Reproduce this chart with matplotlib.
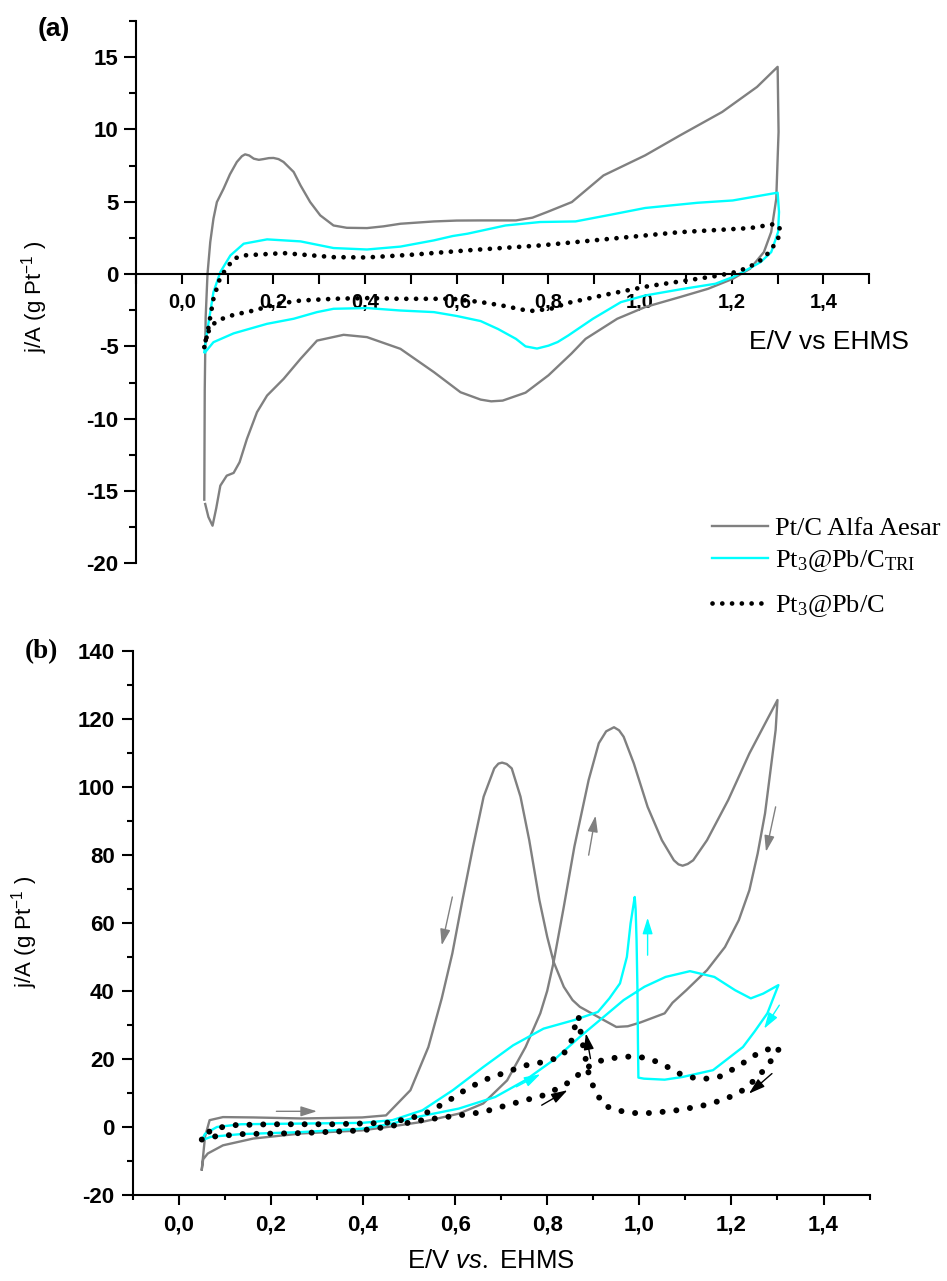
import matplotlib
matplotlib.use("Agg")
import matplotlib.pyplot as plt
from matplotlib.ticker import FixedLocator, FuncFormatter

plt.rcParams['font.family'] = ['Liberation Sans', 'DejaVu Sans']
plt.rcParams['mathtext.fontset'] = 'custom'
plt.rcParams['mathtext.rm'] = 'Liberation Serif'
plt.rcParams['mathtext.sf'] = 'Liberation Sans'
plt.rcParams['mathtext.it'] = 'Liberation Sans:italic'
plt.rcParams['mathtext.bf'] = 'Liberation Sans:bold'
plt.rcParams['mathtext.default'] = 'regular'

# ---------------- data: panel (a) ----------------
a_ptc_E = [0.049, 0.050, 0.052, 0.056, 0.062, 0.069, 0.0765, 0.091, 0.105, 0.120, 0.131, 0.138,
           0.147, 0.157, 0.168, 0.178, 0.190, 0.200, 0.211, 0.222, 0.244, 0.259, 0.280, 0.302,
           0.331, 0.360, 0.404, 0.440, 0.477, 0.550, 0.600, 0.652, 0.729, 0.765, 0.797, 0.851,
           0.920, 1.011, 1.087, 1.179, 1.255, 1.300,
           1.302, 1.297, 1.286, 1.270, 1.240, 1.202, 1.148, 1.087, 1.011, 0.950, 0.881, 0.850,
           0.800, 0.750, 0.700, 0.675, 0.652, 0.608, 0.550, 0.477, 0.404, 0.353, 0.295, 0.259,
           0.222, 0.186, 0.164, 0.142, 0.126, 0.113, 0.098, 0.084, 0.075, 0.067, 0.058, 0.051]
a_ptc_j = [-15.6, -8.0, -3.0, 0.0, 2.21, 3.83, 4.98, 5.90, 6.90, 7.75, 8.15, 8.28,
           8.20, 7.98, 7.90, 7.95, 8.02, 8.03, 7.95, 7.75, 7.06, 6.13, 4.98, 4.06,
           3.36, 3.20, 3.18, 3.30, 3.48, 3.64, 3.70, 3.71, 3.71, 3.90, 4.29, 4.98,
           6.82, 8.21, 9.59, 11.21, 12.94, 14.33,
           9.83, 5.21, 2.91, 1.52, 0.37, -0.33, -1.02, -1.59, -2.28, -3.09, -4.48, -5.50,
           -7.00, -8.20, -8.75, -8.80, -8.68, -8.17, -6.78, -5.17, -4.36, -4.20, -4.60, -5.86,
           -7.25, -8.40, -9.55, -11.40, -13.01, -13.75, -13.94, -14.63, -16.20, -17.40, -16.8, -15.90]

a_tri_E = [0.049, 0.055, 0.069, 0.084, 0.106, 0.135, 0.186, 0.259, 0.331, 0.404, 0.477, 0.550,
           0.591, 0.623, 0.706, 0.782, 0.859, 0.935, 1.011, 1.125, 1.202, 1.300,
           1.303, 1.301, 1.286, 1.263, 1.224, 1.202, 1.164, 1.087, 1.011, 0.958, 0.897, 0.843,
           0.820, 0.800, 0.775, 0.750, 0.729, 0.690, 0.652, 0.600, 0.550, 0.477, 0.404, 0.331,
           0.295, 0.244, 0.186, 0.113, 0.069, 0.051]
a_tri_j = [-5.40, -4.01, -1.25, 0.14, 1.29, 2.10, 2.40, 2.26, 1.80, 1.70, 1.90, 2.33,
           2.63, 2.79, 3.36, 3.60, 3.64, 4.10, 4.57, 4.93, 5.09, 5.63,
           4.29, 2.91, 1.52, 0.83, 0.14, -0.21, -0.67, -1.06, -1.48, -1.94, -3.09, -4.25,
           -4.70, -4.95, -5.15, -5.00, -4.48, -3.80, -3.25, -2.90, -2.63, -2.52, -2.35, -2.40,
           -2.63, -3.09, -3.44, -4.10, -4.71, -5.40]

a_pb_E = [0.049, 0.055, 0.069, 0.084, 0.113, 0.135, 0.222, 0.331, 0.404, 0.503, 0.632, 0.782,
          0.935, 1.087, 1.240, 1.297,
          1.305, 1.301, 1.287, 1.270, 1.247, 1.224, 1.202, 1.164, 1.087, 1.019, 0.935, 0.843,
          0.805, 0.759, 0.698, 0.653, 0.591, 0.477, 0.404, 0.331, 0.259, 0.208, 0.157, 0.113,
          0.091, 0.069, 0.055, 0.049]
a_pb_j = [-5.05, -4.25, -1.71, -0.21, 1.06, 1.29, 1.45, 1.17, 1.15, 1.34, 1.66, 1.98,
          2.44, 2.90, 3.18, 3.48,
          3.13, 2.44, 1.75, 1.10, 0.64, 0.32, 0.09, -0.14, -0.51, -0.83, -1.36, -1.99,
          -2.40, -2.56, -2.17, -1.94, -1.71, -1.71, -1.66, -1.71, -1.83, -2.06, -2.52, -2.82,
          -3.05, -3.44, -4.13, -5.05]

# ---------------- data: panel (b) ----------------
b_ptc_E = [0.050, 0.053, 0.063, 0.096, 0.162, 0.267, 0.398, 0.464, 0.529, 0.608, 0.661, 0.713,
           0.753, 0.785, 0.800, 0.814, 0.836, 0.859, 0.890, 0.912, 0.928, 0.945, 0.956, 0.966,
           0.988, 1.018, 1.049, 1.075, 1.085, 1.094, 1.105, 1.117, 1.147, 1.193, 1.239, 1.277,
           1.300,
           1.296, 1.284, 1.273, 1.257, 1.239, 1.216, 1.186, 1.147, 1.102, 1.072, 1.055, 1.002,
           0.975, 0.950, 0.923, 0.871, 0.855, 0.836, 0.814, 0.800, 0.783, 0.761, 0.742, 0.723,
           0.712, 0.702, 0.694, 0.685, 0.662, 0.639, 0.616, 0.594, 0.571, 0.542, 0.503, 0.450,
           0.398, 0.267, 0.162, 0.096, 0.067, 0.057, 0.050]
b_ptc_j = [-12.5, -9.5, -7.8, -5.4, -3.4, -1.9, -1.0, 0.2, 1.5, 3.9, 6.9, 13.7,
           23.5, 33.4, 40.0, 48.5, 64.7, 82.4, 102.0, 112.8, 116.3, 117.5, 116.6, 114.7,
           106.9, 94.1, 84.3, 78.4, 77.2, 76.8, 77.3, 78.4, 84.3, 96.1, 109.8, 119.6,
           125.5,
           116.7, 103.9, 92.2, 80.4, 69.6, 60.8, 52.9, 46.1, 40.2, 36.5, 33.4, 30.7,
           29.6, 29.4, 31.4, 35.3, 37.3, 41.2, 48.5, 55.9, 66.7, 84.3, 97.1, 105.4,
           106.7, 107.1, 106.8, 105.4, 97.1, 82.4, 66.7, 51.0, 37.8, 23.5, 10.8, 3.4,
           2.8, 2.5, 2.8, 2.9, 2.0, -2.9, -12.5]

b_tri_E = [0.050, 0.070, 0.135, 0.267, 0.398, 0.464, 0.516, 0.608, 0.687, 0.752, 0.818, 0.871,
           0.923, 0.966, 1.011, 1.057, 1.110, 1.163, 1.208, 1.242, 1.269, 1.302,
           1.278, 1.250, 1.225, 1.160, 1.094, 1.055, 1.010, 0.998, 0.997, 0.996, 0.994, 0.992,
           0.990, 0.987, 0.981, 0.973, 0.958, 0.935, 0.910, 0.858, 0.792, 0.726, 0.661, 0.595,
           0.529, 0.464, 0.398, 0.267, 0.135, 0.083, 0.057, 0.050]
b_tri_j = [-3.9, -2.9, -2.1, -1.5, -0.5, 1.0, 2.9, 5.4, 8.8, 13.7, 20.1, 26.5,
           32.4, 37.3, 41.2, 44.1, 45.8, 44.1, 40.2, 37.8, 39.2, 41.7,
           33.4, 28.0, 23.5, 16.7, 14.7, 13.9, 14.2, 14.5, 25.0, 40.0, 55.0, 64.0,
           67.6, 65.0, 59.8, 50.0, 42.2, 37.8, 33.8, 31.4, 28.9, 24.0, 17.6, 10.8,
           4.9, 2.0, 1.2, 1.0, 0.8, 0.0, -2.0, -3.9]

b_pb_E = [0.050, 0.069, 0.135, 0.267, 0.398, 0.450, 0.529, 0.608, 0.661, 0.726, 0.792, 0.838,
          0.871, 0.903, 0.950, 0.989, 1.022, 1.055, 1.094, 1.133, 1.173, 1.212, 1.251, 1.291,
          1.304,
          1.284, 1.258, 1.225, 1.186, 1.133, 1.081, 1.028, 0.989, 0.950, 0.923, 0.903, 0.890,
          0.881, 0.873, 0.868, 0.860, 0.851, 0.831, 0.792, 0.753, 0.713, 0.661, 0.621, 0.582,
          0.542, 0.503, 0.450, 0.332, 0.201, 0.109, 0.069, 0.050]
b_pb_j = [-3.7, -2.9, -2.1, -1.8, -1.0, 0.0, 2.0, 3.4, 4.4, 6.9, 9.3, 12.3,
          15.7, 19.1, 20.4, 20.8, 20.1, 18.1, 15.2, 14.0, 14.7, 17.6, 21.1, 23.5,
          23.1,
          19.1, 14.7, 10.8, 8.1, 6.1, 4.9, 4.1, 4.1, 4.9, 6.4, 10.8, 15.7,
          21.6, 27.5, 32.6, 29.4, 24.5, 20.6, 19.1, 18.1, 16.2, 13.7, 10.8, 7.4,
          4.4, 2.5, 1.2, 0.8, 0.8, 0.5, -1.0, -3.7]

# scan-direction arrows in panel (b): colour, tail (E, j), head (E, j)
b_arrows = [
    ('#808080', (0.212, 4.6), (0.300, 4.6)),
    ('#808080', (0.594, 67.6), (0.571, 53.4)),
    ('#808080', (0.890, 79.9), (0.905, 91.5)),
    ('#808080', (1.296, 94.1), (1.275, 80.9)),
    ('#00FFFF', (1.018, 50.5), (1.018, 61.5)),
    ('#00FFFF', (0.733, 11.8), (0.785, 15.5)),
    ('#00FFFF', (1.304, 35.8), (1.271, 28.9)),
    ('black', (0.788, 6.4), (0.844, 10.8)),
    ('black', (0.894, 20.1), (0.884, 27.5)),
    ('black', (1.288, 15.7), (1.238, 9.8)),
]

labels = ['Pt/C Alfa Aesar', r'Pt$_3$@Pb/C$_{TRI}$', r'Pt$_3$@Pb/C']
x_major = [0.0, 0.2, 0.4, 0.6, 0.8, 1.0, 1.2, 1.4]
x_minor = [-0.1, 0.1, 0.3, 0.5, 0.7, 0.9, 1.1, 1.3, 1.5]
a_y_major = [-20, -15, -10, -5, 0, 5, 10, 15]
a_y_minor = [-17.5, -12.5, -7.5, -2.5, 2.5, 7.5, 12.5, 17.5]
b_y_major = [-20, 0, 20, 40, 60, 80, 100, 120, 140]
b_y_minor = [-10, 10, 30, 50, 70, 90, 110, 130]

GRAY = '#808080'
CYAN = '#00FFFF'

W, H = 947, 1281
fig = plt.figure(figsize=(W / 100, H / 100), dpi=100)
ax_a = fig.add_axes([136 / W, 1 - 563.3 / H, 733.3 / W, 542.3 / H])
ax_b = fig.add_axes([132.7 / W, 1 - 1195 / H, 736.9 / W, 544.3 / H])

comma = FuncFormatter(lambda v, p: f'{v:.1f}'.replace('.', ','))
intf = FuncFormatter(lambda v, p: f'{int(round(v))}')

# ---- panel (a)
l1, = ax_a.plot(a_ptc_E, a_ptc_j, color=GRAY, lw=1.7, label=labels[0],
                solid_joinstyle='round')
l2, = ax_a.plot(a_tri_E, a_tri_j, color=CYAN, lw=1.7, label=labels[1],
                solid_joinstyle='round')
l3, = ax_a.plot(a_pb_E, a_pb_j, color='black', lw=3.4, linestyle=(0, (0.01, 2.06)),
                dash_capstyle='round', label=labels[2])
ax_a.set_xlim(-0.1, 1.5)
ax_a.set_ylim(-20, 17.5)
for s in ['top', 'right']:
    ax_a.spines[s].set_visible(False)
ax_a.spines['bottom'].set_position(('data', 0))
for s in ['left', 'bottom']:
    ax_a.spines[s].set_linewidth(1.5)
ax_a.set_axisbelow(True)
ax_a.xaxis.set_major_locator(FixedLocator(x_major))
ax_a.xaxis.set_minor_locator(FixedLocator(x_minor))
ax_a.yaxis.set_major_locator(FixedLocator(a_y_major))
ax_a.yaxis.set_minor_locator(FixedLocator(a_y_minor))
ax_a.xaxis.set_major_formatter(comma)
ax_a.yaxis.set_major_formatter(intf)
ax_a.tick_params(axis='x', which='both', direction='out', length=7.2, width=1.5, pad=6.5,
                 labelsize=14.5)
ax_a.tick_params(axis='y', which='major', direction='out', length=8.6, width=1.5, pad=4,
                 labelsize=16)
ax_a.tick_params(axis='y', which='minor', direction='out', length=5, width=1.5)
for t in ax_a.get_xticklabels() + ax_a.get_yticklabels():
    t.set_fontweight('bold')
ax_a.set_ylabel(r'j/A (g Pt$^{-1}$ )', fontsize=16)
ax_a.yaxis.set_label_coords(-0.117, 0.492)
fig.text(828.5 / W, 1 - 349 / H, 'E/V vs EHMS', fontsize=19, ha='center', va='baseline')
fig.text(53.7 / W, 1 - 29 / H, '(a)', fontsize=19, fontweight='bold', ha='center', va='center')

# ---- panel (b)
ax_b.plot(b_ptc_E, b_ptc_j, color=GRAY, lw=1.7, solid_joinstyle='round')
ax_b.plot(b_tri_E, b_tri_j, color=CYAN, lw=1.7, solid_joinstyle='round')
ax_b.plot(b_pb_E, b_pb_j, color='black', lw=4.3, linestyle=(0, (0.01, 2.3)),
          dash_capstyle='round')
for col, tail, head in b_arrows:
    ax_b.annotate('', xy=head, xytext=tail,
                  arrowprops=dict(arrowstyle='-|>,head_length=0.7,head_width=0.22',
                                  color=col, lw=1.0, mutation_scale=14,
                                  shrinkA=0, shrinkB=0))
ax_b.set_xlim(-0.1, 1.5)
ax_b.set_ylim(-20, 140)
for s in ['top', 'right']:
    ax_b.spines[s].set_visible(False)
for s in ['left', 'bottom']:
    ax_b.spines[s].set_linewidth(1.5)
ax_b.xaxis.set_major_locator(FixedLocator(x_major))
ax_b.xaxis.set_minor_locator(FixedLocator(x_minor))
ax_b.yaxis.set_major_locator(FixedLocator(b_y_major))
ax_b.yaxis.set_minor_locator(FixedLocator(b_y_minor))
ax_b.xaxis.set_major_formatter(comma)
ax_b.yaxis.set_major_formatter(intf)
ax_b.tick_params(axis='x', which='major', direction='out', length=7.2, width=1.5, pad=6.5,
                 labelsize=16)
ax_b.tick_params(axis='x', which='minor', direction='out', length=3.6, width=1.5)
ax_b.tick_params(axis='y', which='major', direction='out', length=8, width=1.5, pad=5,
                 labelsize=16)
ax_b.tick_params(axis='y', which='minor', direction='out', length=4.3, width=1.5)
for t in ax_b.get_xticklabels() + ax_b.get_yticklabels():
    t.set_fontweight('bold')
ax_b.set_ylabel(r'j/A (g Pt$^{-1}$ )', fontsize=16)
ax_b.yaxis.set_label_coords(-0.126, 0.484)
fig.text(491 / W, 1 - 1268 / H, r'E/V $\mathit{vs.}$ EHMS', fontsize=18.5, ha='center',
         va='baseline')
fig.text(41.7 / W, 1 - 651.5 / H, '(b)', fontsize=19.5, fontweight='bold',
         family=['Liberation Serif', 'DejaVu Serif'], ha='center', va='center')

# ---- legend (two pieces to reproduce the uneven row spacing)
leg_prop = {'family': ['Liberation Serif', 'DejaVu Serif'], 'size': 19}
fig.legend(handles=[l1, l2], loc='upper left', bbox_to_anchor=(712 / W, 1 - 517 / H),
           frameon=False, prop=leg_prop,
           handlelength=2.12, handletextpad=0.27, borderpad=0, borderaxespad=0,
           labelspacing=0.3)
fig.legend(handles=[l3], loc='upper left', bbox_to_anchor=(712 / W, 1 - 593 / H),
           frameon=False, prop=leg_prop,
           handlelength=2.12, handletextpad=0.27, borderpad=0, borderaxespad=0)

fig.savefig('out.png', dpi=100)
